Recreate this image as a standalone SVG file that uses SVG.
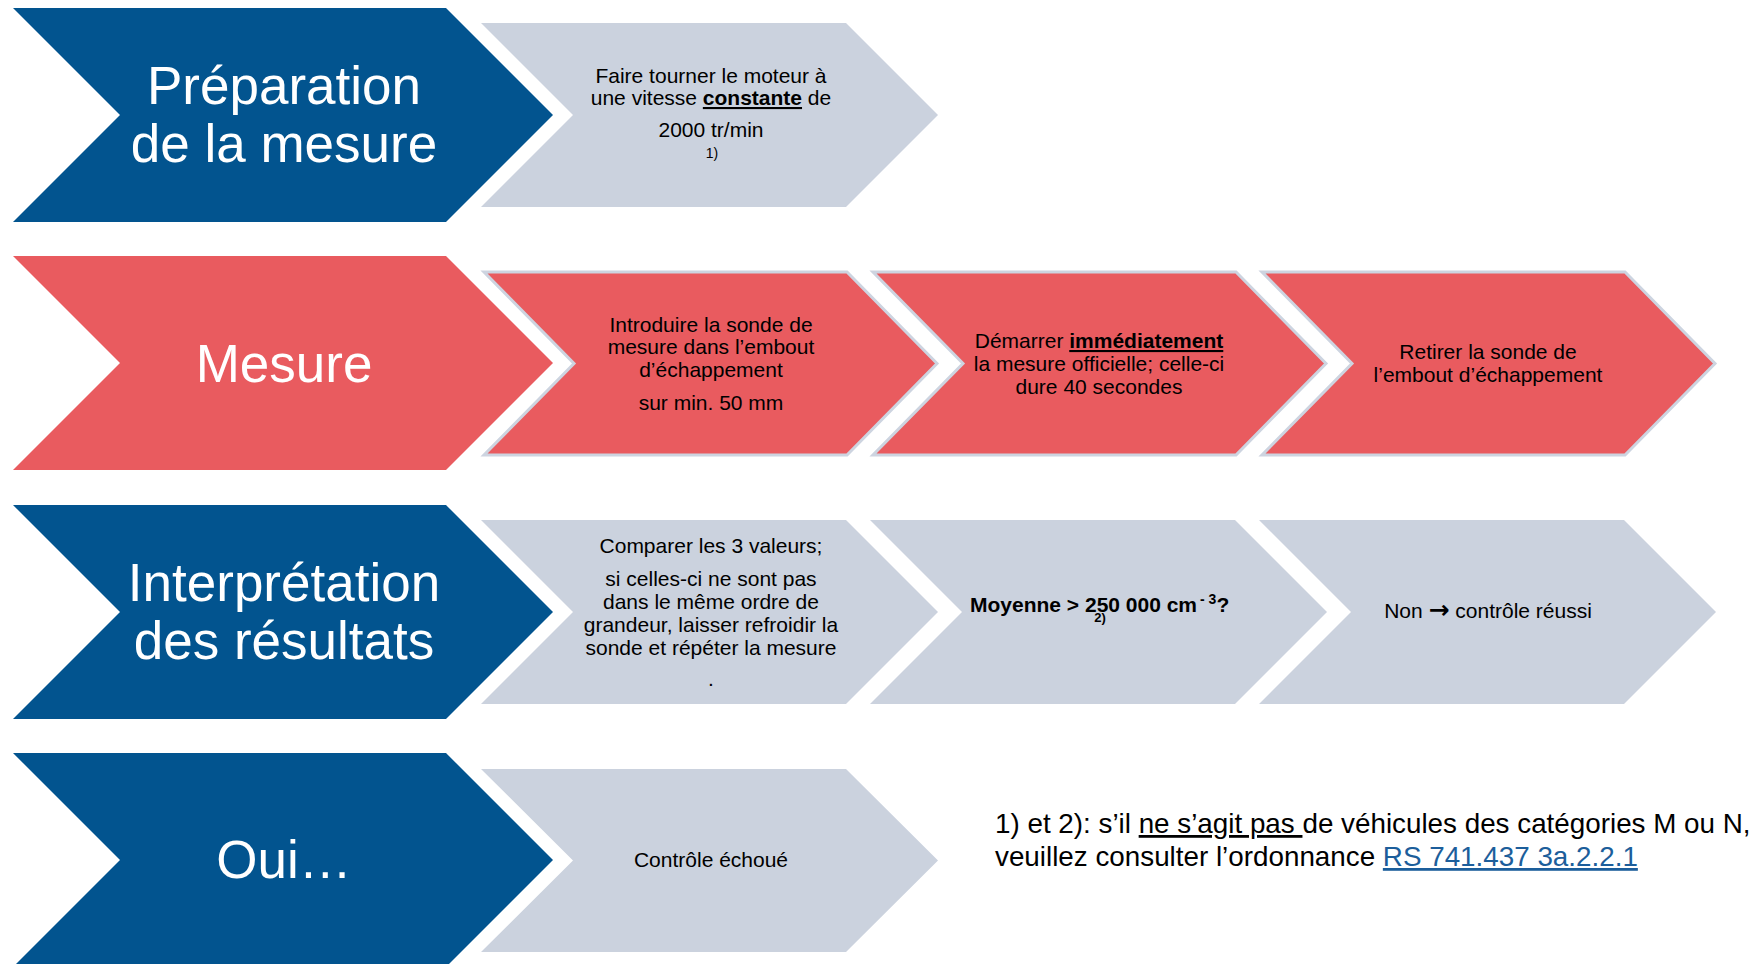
<svg xmlns="http://www.w3.org/2000/svg" width="1756" height="964" viewBox="0 0 1756 964">
<style>
.big{fill:#02548F}
.bigred{fill:#E95B5F}
.grey{fill:#CBD2DE}
.red{fill:#E95B5F;stroke:#CDD4E0;stroke-width:3}
text{font-family:"Liberation Sans",Arial,sans-serif}
.bt{font-size:53px;fill:#fff;text-anchor:middle}
.st{font-size:21px;fill:#000;text-anchor:middle}
.b{font-weight:bold}
.u{text-decoration:underline}
.fn{font-size:27.8px;fill:#000}
.link{fill:#1C5E9B;text-decoration:underline}
</style>
<rect width="1756" height="964" fill="#fff"/>
<g id="connectors"></g>

<!-- Row 1 -->
<g id="prep">
<polygon class="big" points="13,8 446,8 553,115 446,222 13,222 120,115"/>
<text class="bt" x="284" y="104">Préparation</text>
<text class="bt" x="284" y="162">de la mesure</text>
</g>
<g id="prep-step1">
<polygon class="grey" points="481,23 846,23 938,115 846,207 481,207 573,115"/>
<text class="st" x="711" y="83">Faire tourner le moteur à</text>
<text class="st" x="711" y="105">une vitesse <tspan class="b u">constante</tspan> de</text>
<text class="st" x="711" y="137">2000 tr/min</text>
<text class="st" x="712" y="158" style="font-size:14px">1)</text>
</g>

<!-- Row 2 -->
<g id="mesure">
<polygon class="bigred" points="13,256 446,256 553,363 446,470 13,470 120,363"/>
<text class="bt" x="284" y="382">Mesure</text>
</g>
<g id="mesure-step1">
<polygon class="red" points="484,272 847,272 937,363.5 847,455 484,455 574,363.5"/>
<text class="st" x="711" y="332">Introduire la sonde de</text>
<text class="st" x="711" y="354">mesure dans l’embout</text>
<text class="st" x="711" y="377">d’échappement</text>
<text class="st" x="711" y="410">sur min. 50 mm</text>
</g>
<g id="mesure-step2">
<polygon class="red" points="873,272 1236,272 1326,363.5 1236,455 873,455 963,363.5"/>
<text class="st" x="1099" y="348">Démarrer <tspan class="b u">immédiatement</tspan></text>
<text class="st" x="1099" y="371">la mesure officielle; celle-ci</text>
<text class="st" x="1099" y="394">dure 40 secondes</text>
</g>
<g id="mesure-step3">
<polygon class="red" points="1262,272 1625,272 1715,363.5 1625,455 1262,455 1352,363.5"/>
<text class="st" x="1488" y="359">Retirer la sonde de</text>
<text class="st" x="1488" y="382">l’embout d’échappement</text>
</g>

<!-- Row 3 -->
<g id="interp">
<polygon class="big" points="13,505 446,505 553,612 446,719 13,719 120,612"/>
<text class="bt" x="284" y="601">Interprétation</text>
<text class="bt" x="284" y="659">des résultats</text>
</g>
<g id="interp-step1">
<polygon class="grey" points="481,520 846,520 938,612 846,704 481,704 573,612"/>
<text class="st" x="711" y="553">Comparer les 3 valeurs;</text>
<text class="st" x="711" y="586">si celles-ci ne sont pas</text>
<text class="st" x="711" y="609">dans le même ordre de</text>
<text class="st" x="711" y="632">grandeur, laisser refroidir la</text>
<text class="st" x="711" y="655">sonde et répéter la mesure</text>
<text class="st" x="711" y="686">.</text>
</g>
<g id="interp-step2">
<polygon class="grey" points="870,520 1235,520 1327,612 1235,704 870,704 962,612"/>
<text class="st b" x="970" y="612" style="text-anchor:start">Moyenne &gt; 250 000 cm<tspan dx="3" dy="-8" style="font-size:14px">- 3</tspan><tspan dy="8">?</tspan></text>
<text class="st b" x="1100" y="622" style="font-size:13px">2)</text>
</g>
<g id="interp-step3">
<polygon class="grey" points="1259,520 1624,520 1716,612 1624,704 1259,704 1351,612"/>
<text class="st" x="1488" y="618">Non <tspan style="font-family:'DejaVu Sans',sans-serif;font-size:25px;font-weight:bold">→</tspan> contrôle réussi</text>
</g>

<!-- Row 4 -->
<g id="oui">
<polygon class="big" points="13,753 446,753 553,860 446,967 13,967 120,860"/>
<text class="bt" x="284" y="878">Oui…</text>
</g>
<g id="oui-step1">
<polygon class="grey" points="481,769 846,769 938,860.5 846,952 481,952 573,860.5"/>
<text class="st" x="711" y="867">Contrôle échoué</text>
</g>

<g id="footnote">
<text class="fn" x="995" y="833">1) et 2): s’il <tspan class="u">ne s’agit pas </tspan>de véhicules des catégories M ou N,</text>
<text class="fn" x="995" y="866">veuillez consulter l’ordonnance <tspan class="link">RS 741.437 3a.2.2.1</tspan></text>
</g>
</svg>
